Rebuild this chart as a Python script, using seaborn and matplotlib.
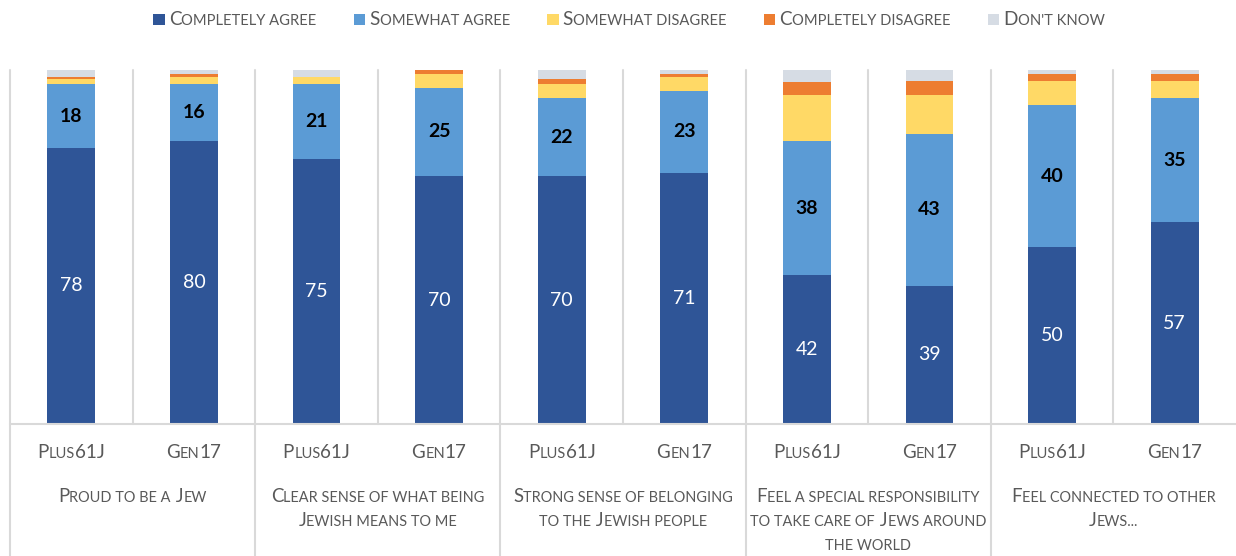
import numpy as np
import pandas as pd
import matplotlib
matplotlib.use("Agg")
import matplotlib.pyplot as plt
import seaborn as sns
from matplotlib.offsetbox import TextArea, HPacker, DrawingArea, AnnotationBbox
from matplotlib.patches import Rectangle
from matplotlib.lines import Line2D

# ---- data -------------------------------------------------------------
statement_lines = [
    ["Proud to be a Jew"],
    ["Clear sense of what being", "Jewish means to me"],
    ["Strong sense of belonging", "to the Jewish people"],
    ["Feel a special responsibility", "to take care of Jews around", "the world"],
    ["Feel connected to other", "Jews..."],
]
surveys = ["Plus61J", "Gen17"]
responses = ["Completely agree", "Somewhat agree", "Somewhat disagree",
             "Completely disagree", "Don't know"]

completely_agree = [78, 80, 75, 70, 70, 71, 42, 39, 50, 57]
somewhat_agree = [18, 16, 21, 25, 22, 23, 38, 43, 40, 35]
somewhat_disagree = [1.5, 2, 2, 4, 4, 4, 13, 11, 7, 5]
completely_disagree = [0.5, 1, 0, 1, 1.5, 1, 3.5, 4, 2, 2]
dont_know = [2, 1, 2, 0, 2.5, 1, 3.5, 3, 1, 1]

colors = ["#2F5597", "#5B9BD5", "#FFD966", "#ED7D31", "#D6DCE4"]

# ---- style ------------------------------------------------------------
sns.set_theme(style="white")
FONT = "Lato"
plt.rcParams["font.family"] = [FONT, "DejaVu Sans"]
TEXT_COL = "#595959"
GRID_COL = "#D9D9D9"

W, H = 1236, 556
fig = plt.figure(figsize=(W / 100, H / 100), dpi=100)
ax = fig.add_axes([10 / W, 132 / H, 1226 / W, 354 / H])

n_bars = len(completely_agree)
pos = np.arange(n_bars)
layers = np.array([completely_agree, somewhat_agree, somewhat_disagree,
                   completely_disagree, dont_know], dtype=float)
tops = np.cumsum(layers, axis=0)

# stacked bars: draw cumulative heights from the top layer downwards
for i in range(len(responses) - 1, -1, -1):
    df = pd.DataFrame({"pos": pos, "top": tops[i]})
    sns.barplot(data=df, x="pos", y="top", native_scale=True, width=0.39,
                color=colors[i], saturation=1, linewidth=0, ax=ax)

ax.set_xlim(-0.5, n_bars - 0.5)
ax.set_ylim(0, 100)
ax.set_xticks([])
ax.set_yticks([])
ax.set_xlabel("")
ax.set_ylabel("")
for sp in ax.spines.values():
    sp.set_visible(False)

# value labels
for p, ca, sa in zip(pos, completely_agree, somewhat_agree):
    ax.text(p, ca / 2, f"{ca:g}", ha="center", va="center", color="white",
            fontsize=14, fontfamily=FONT)
    ax.text(p, ca + sa / 2, f"{sa:g}", ha="center", va="center", color="black",
            fontsize=14, fontweight="bold", fontfamily=FONT)

# category frame lines
xt = ax.get_xaxis_transform()
fig_bottom = -132 / 354
for k in range(n_bars):
    x = k - 0.5
    y0 = fig_bottom if k % 2 == 0 else 0
    ax.add_line(Line2D([x, x], [y0, 1], transform=xt, color=GRID_COL,
                       lw=1.5, clip_on=False, zorder=0))
ax.add_line(Line2D([-0.5, n_bars - 0.5], [0, 0], transform=xt, color=GRID_COL,
                   lw=1.5, clip_on=False, zorder=3))


def small_caps(s, size, color=TEXT_COL, weight="normal", ratio=0.78):
    runs, cur, cur_big, pending = [], "", None, ""
    for ch in s:
        if ch == " ":
            pending += " "
            continue
        if ch.isupper() or ch.isdigit():
            cls = True
        elif ch.islower():
            cls = False
        else:
            cls = cur_big
        if cur_big is None or cls == cur_big:
            cur += pending + ch
        else:
            runs.append((cur, cur_big))
            cur = pending + ch
        if cls is not None:
            cur_big = cls
        pending = ""
    runs.append((cur, cur_big))
    kids = [TextArea(t.upper(), textprops=dict(
        fontsize=size if b else size * ratio, color=color,
        fontfamily=FONT, fontweight=weight)) for t, b in runs]
    return HPacker(children=kids, align="baseline", pad=0, sep=0)


def place(box, xy, coords):
    ab = AnnotationBbox(box, xy, xycoords=coords, frameon=False,
                        box_alignment=(0.5, 0.5), pad=0, annotation_clip=False)
    ax.add_artist(ab)


# survey labels under each bar
for p in pos:
    place(small_caps(surveys[p % 2], 13.5), (p, -29 / 354), xt)

# statement labels under each pair
for g, lines in enumerate(statement_lines):
    for j, line in enumerate(lines):
        y = -(72 + 25 * j) / 354
        place(small_caps(line, 13.4), (2 * g + 0.5, y), xt)

# legend row
items = []
for lab, col in zip(responses, colors):
    da = DrawingArea(8, 8, 0, 0)
    da.add_artist(Rectangle((0, 0), 8, 8, facecolor=col, edgecolor="none"))
    items.append(HPacker(children=[da, small_caps(lab, 13.6)], align="center",
                         pad=0, sep=3))
legend = HPacker(children=items, align="center", pad=0, sep=27)
ab = AnnotationBbox(legend, (629 / W, 1 - 19.5 / H), xycoords="figure fraction",
                    frameon=False, box_alignment=(0.5, 0.5), pad=0,
                    annotation_clip=False)
fig.add_artist(ab)

fig.savefig("out.png", dpi=100)
